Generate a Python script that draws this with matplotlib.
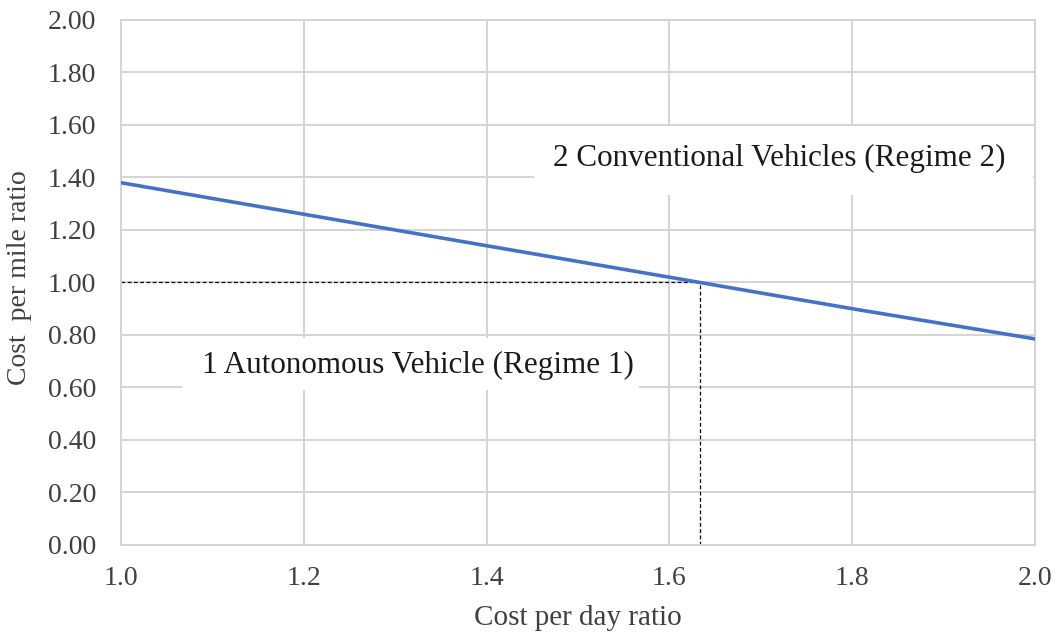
import matplotlib.pyplot as plt
from matplotlib.patches import Rectangle

plt.rcParams['font.family'] = ['Liberation Serif', 'DejaVu Serif']

day_ratio = [1.0, 1.2, 1.4, 1.6, 1.8, 2.0]
mile_ratio = [1.38, 1.26, 1.14, 1.02, 0.90, 0.785]
break_even_x = 1.633
break_even_y = 1.0

x_ticks = [1.0, 1.2, 1.4, 1.6, 1.8, 2.0]
y_ticks = [0.0, 0.2, 0.4, 0.6, 0.8, 1.0, 1.2, 1.4, 1.6, 1.8, 2.0]

grid_col = '#d4d4d4'
text_col = '#404040'

fig = plt.figure(figsize=(10.55, 6.34), dpi=100)
ax = fig.add_axes([0.1147, 0.1404, 0.8664, 0.8281])

ax.set_xlim(1.0, 2.0)
ax.set_ylim(0.0, 2.0)
ax.set_xticks(x_ticks)
ax.set_yticks(y_ticks)
ax.set_xticklabels(['%.1f' % v for v in x_ticks])
ax.set_yticklabels(['%.2f' % v for v in y_ticks])
ax.tick_params(length=0, labelsize=20, labelcolor=text_col)
ax.tick_params(axis='y', pad=18)
ax.tick_params(axis='x', pad=15)
ax.grid(True, color=grid_col, linewidth=1.4)
ax.set_axisbelow(True)
for s in ax.spines.values():
    s.set_color(grid_col)
    s.set_linewidth(1.4)

# white boxes behind the regime labels
ax.add_patch(Rectangle((1.067, 0.59), 0.50, 0.20, facecolor='white', edgecolor='none', zorder=1.5))
ax.add_patch(Rectangle((1.452, 1.335), 0.546, 0.262, facecolor='white', edgecolor='none', zorder=1.5))

ax.plot(day_ratio, mile_ratio, color='#4472C4', linewidth=2.6, zorder=3)
ax.plot([1.0, break_even_x], [break_even_y, break_even_y], color='black',
        linestyle=(0, (3, 2)), linewidth=0.9, zorder=2.5)
ax.plot([break_even_x, break_even_x], [0.0, break_even_y], color='black',
        linestyle=(0, (3, 2)), linewidth=0.9, zorder=2.5)

ax.text(1.72, 1.474, '2 Conventional Vehicles (Regime 2)', fontsize=22.4,
        color='#1a1a1a', ha='center', va='center', zorder=4)
ax.text(1.325, 0.682, '1 Autonomous Vehicle (Regime 1)', fontsize=22.4,
        color='#1a1a1a', ha='center', va='center', zorder=4)

ax.set_xlabel('Cost per day ratio', fontsize=21, color=text_col)
ax.set_ylabel('Cost  per mile ratio', fontsize=20, color=text_col)
ax.xaxis.set_label_coords(0.5, -0.114)
ax.yaxis.set_label_coords(-0.097, 0.51)

fig.savefig('out.png', dpi=100)
